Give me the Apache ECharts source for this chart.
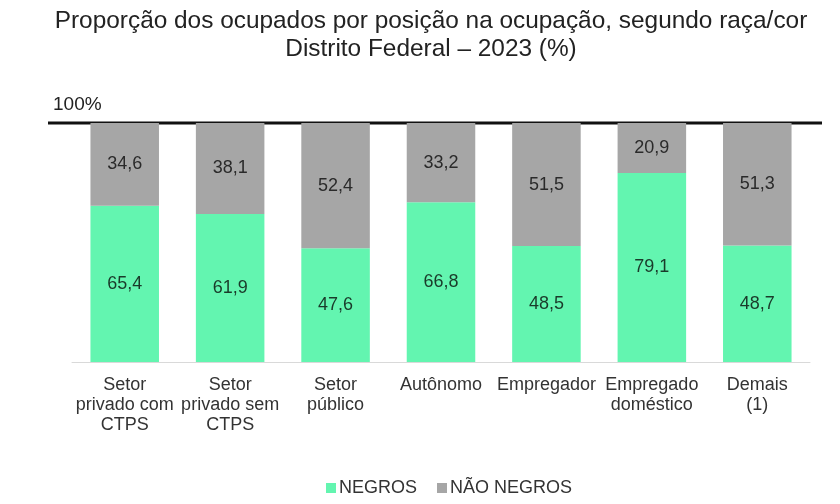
<!DOCTYPE html>
<html><head><meta charset="utf-8">
<script src="https://cdn.jsdelivr.net/npm/echarts@6/dist/echarts.min.js"></script>
<style>html,body{margin:0;padding:0;background:#fff}#c{width:840px;height:504px}</style>
</head><body><div id="c"></div>
<script>
const categories = ["Setor\nprivado com\nCTPS", "Setor\nprivado sem\nCTPS", "Setor\npúblico", "Autônomo", "Empregador", "Empregado\ndoméstico", "Demais\n(1)"];
const negros = [65.4, 61.9, 47.6, 66.8, 48.5, 79.1, 48.7];
const naoNegros = [34.6, 38.1, 52.4, 33.2, 51.5, 20.9, 51.3];
const seriesNames = ["NEGROS", "NÃO NEGROS"];
const topLabel = "100%";

const chart = echarts.init(document.getElementById('c'), null, {renderer: 'canvas'});
const fmt = p => p.value.toFixed(1).replace('.', ',');
const font = 'Liberation Sans, Arial, sans-serif';
const option = {
  animation: false,
  textStyle: {fontFamily: font},
  title: {
    text: 'Proporção dos ocupados por posição na ocupação, segundo raça/cor\nDistrito Federal – 2023 (%)',
    left: 426, top: 2, textAlign: 'center',
    textStyle: {fontSize: 24.4, fontWeight: 'normal', color: '#222', lineHeight: 28, fontFamily: font}
  },
  legend: {
    bottom: 2, left: 321, itemWidth: 10, itemHeight: 10, itemGap: 20, icon: 'rect',
    textStyle: {fontSize: 18, color: '#333', fontFamily: font, padding: [0, 0, 0, -2]},
    data: seriesNames
  },
  grid: {left: 72, right: 30, top: 123, bottom: 142},
  xAxis: {
    type: 'category', data: categories,
    axisLine: {lineStyle: {color: '#d9d9d9', width: 1}},
    axisTick: {show: false},
    axisLabel: {interval: 0, fontSize: 18, color: '#333', lineHeight: 20, margin: 13, fontFamily: font}
  },
  yAxis: {
    type: 'value', min: 0, max: 100, interval: 100,
    axisLabel: {show: false}, splitLine: {show: false}, axisLine: {show: false}
  },
  series: [
    {name: seriesNames[0], type: 'bar', stack: 's', data: negros, barCategoryGap: '35%',
     itemStyle: {color: '#63F5B0'},
     label: {show: true, position: 'inside', formatter: fmt, fontSize: 18, color: '#1a3a2a', fontFamily: font}},
    {name: seriesNames[1], type: 'bar', stack: 's', data: naoNegros,
     itemStyle: {color: '#A6A6A6'},
     label: {show: true, position: 'inside', formatter: fmt, fontSize: 18, color: '#2a2a2a', fontFamily: font}}
  ]
};
chart.setOption(option);
const yTop = chart.convertToPixel({yAxisIndex: 0}, 100);
chart.setOption({
  graphic: [
    {type: 'line', shape: {x1: 48, y1: yTop, x2: 822, y2: yTop}, style: {stroke: '#111', lineWidth: 3}},
    {type: 'text', left: 53, top: yTop - 28, style: {text: topLabel, fill: '#222', font: '19px ' + font}}
  ]
});
</script></body></html>
